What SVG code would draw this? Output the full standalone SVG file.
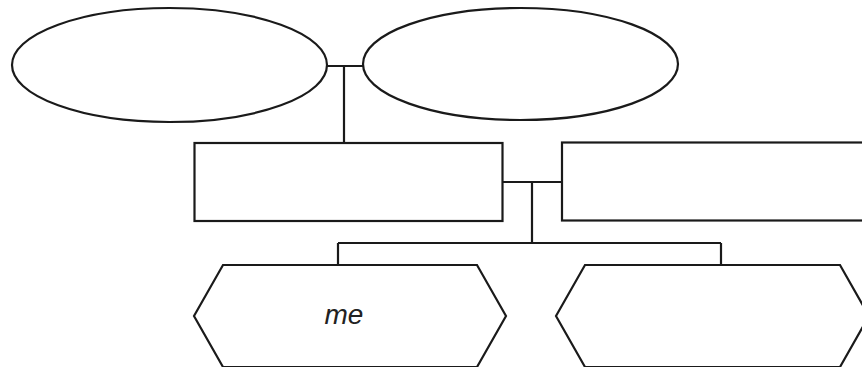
<svg xmlns="http://www.w3.org/2000/svg" width="862" height="367" viewBox="0 0 862 367">
<style>
.s{fill:#fff;stroke:#1a1a1a;stroke-width:2.2}
.c{fill:none;stroke:#1a1a1a;stroke-width:2.2}
.t{font-family:"Liberation Sans",Arial,sans-serif;font-style:italic;font-size:28px;fill:#222}
</style>
<rect width="862" height="367" fill="#fff"/>
<g id="connectors">
<path class="c" d="M327,66 H363 M344,66 V143"/>
<path class="c" d="M502,182 H562 M532,182 V243 M338,243 H721 M338,243 V265 M721,243 V265"/>
</g>
<g id="ellipse-left"><ellipse class="s" cx="169.5" cy="65" rx="157.5" ry="57"/></g>
<g id="ellipse-right"><ellipse class="s" cx="520.5" cy="64" rx="157.5" ry="56"/></g>
<g id="rect-left"><rect class="s" x="194.5" y="143" width="308" height="78"/></g>
<g id="rect-right"><rect class="s" x="562" y="142.5" width="320" height="78"/></g>
<g id="hex-me">
<polygon class="s" points="223,265 477,265 506,316 477,367 223,367 194,316"/>
<text class="t" x="344" y="324" text-anchor="middle">me</text>
</g>
<g id="hex-right"><polygon class="s" points="585,265 840,265 869,316 840,367 585,367 556,316"/></g>
</svg>
